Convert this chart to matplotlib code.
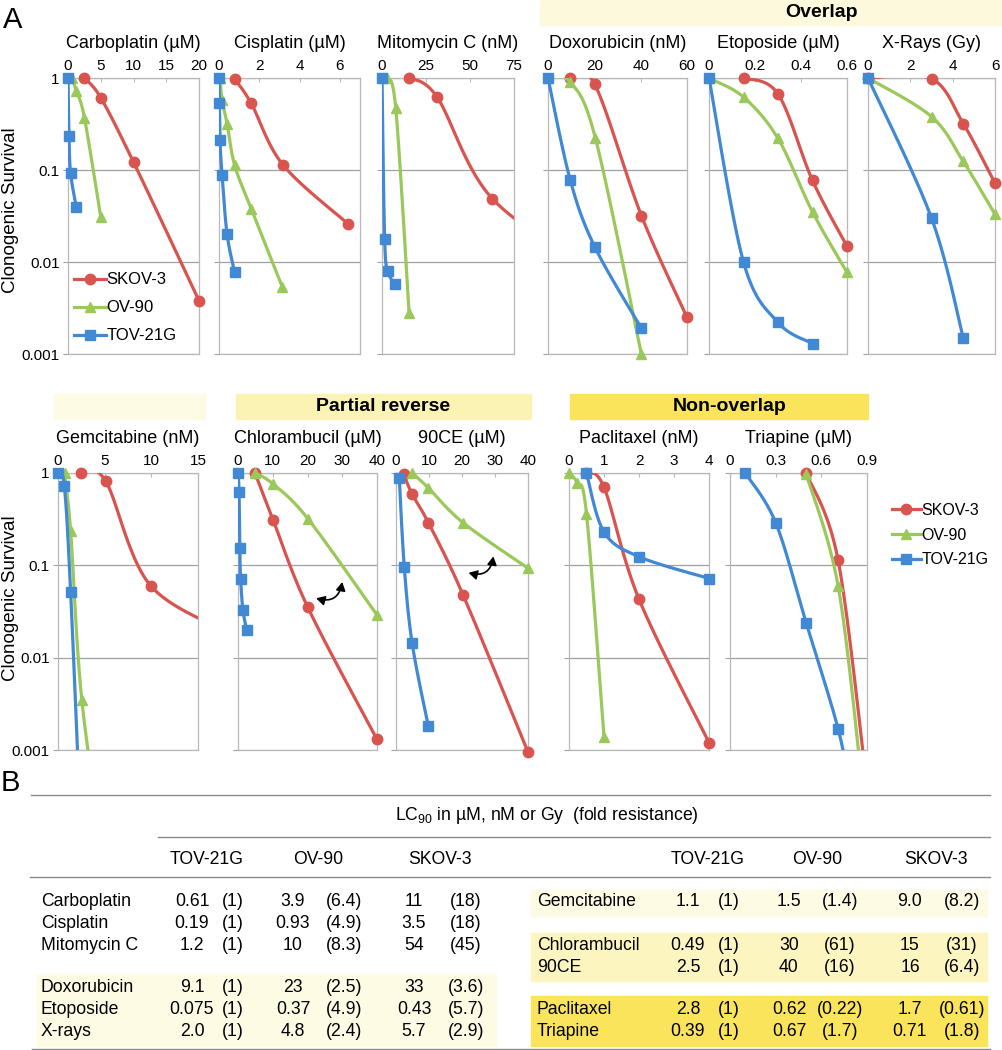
# Clonogenic survival curves (panel A) + LC90 table (panel B)
import numpy as np
import matplotlib.pyplot as plt
from matplotlib.patches import Rectangle, FancyArrowPatch
from matplotlib.lines import Line2D
from matplotlib.ticker import NullLocator, FormatStrFormatter

plt.rcParams['font.family'] = ['Liberation Sans', 'DejaVu Sans']
plt.rcParams['mathtext.fontset'] = 'custom'
plt.rcParams['mathtext.rm'] = 'Liberation Sans'
plt.rcParams['mathtext.default'] = 'regular'

# ---- data: dose, survival for each cell line ----
carboplatin = {'SKOV-3': ([2.5, 5, 10, 20], [1.0, 0.61, 0.122, 0.0038]),
               'OV-90': ([0.6, 1.25, 2.5, 5], [1.0, 0.73, 0.37, 0.031]),
               'TOV-21G': ([0, 0.15, 0.4, 1.25], [1.0, 0.235, 0.092, 0.040])}
cisplatin = {'SKOV-3': ([0.78, 1.6, 3.17, 6.4], [0.97, 0.53, 0.114, 0.026]),
             'OV-90': ([0.05, 0.15, 0.4, 0.78, 1.6, 3.15], [1.0, 0.58, 0.32, 0.112, 0.038, 0.0053]),
             'TOV-21G': ([0, 0.02, 0.05, 0.15, 0.4, 0.78], [1.0, 0.53, 0.21, 0.089, 0.020, 0.0077])}
mitomycin = {'SKOV-3': ([15.4, 31.3, 62.6, 125], [1.0, 0.62, 0.049, 0.007]),
             'OV-90': ([2.8, 7.8, 15.4], [1.0, 0.47, 0.0028]),
             'TOV-21G': ([0, 1.5, 3.4, 7.6], [1.0, 0.018, 0.0079, 0.0057])}
doxorubicin = {'SKOV-3': ([9.6, 20.2, 40.3, 60], [1.0, 0.85, 0.032, 0.0025]),
               'OV-90': ([0, 9.6, 20.5, 40.3], [1.0, 0.9, 0.22, 0.001]),
               'TOV-21G': ([0, 9.6, 20.2, 40.3], [1.0, 0.078, 0.0146, 0.0019])}
etoposide = {'SKOV-3': ([0.15, 0.3, 0.45, 0.6], [1.0, 0.67, 0.077, 0.0148]),
             'OV-90': ([0, 0.15, 0.3, 0.45, 0.6], [1.0, 0.62, 0.22, 0.035, 0.0077]),
             'TOV-21G': ([0, 0.15, 0.3, 0.45], [1.0, 0.01, 0.0022, 0.0013])}
xrays = {'SKOV-3': ([0, 3, 4.5, 6], [1.0, 0.98, 0.32, 0.072]),
         'OV-90': ([0, 3, 4.5, 6], [1.0, 0.38, 0.124, 0.033]),
         'TOV-21G': ([0, 3, 4.5], [1.0, 0.030, 0.0015])}
gemcitabine = {'SKOV-3': ([2.5, 5.1, 10, 20], [1.0, 0.82, 0.059, 0.016]),
               'OV-90': ([0.7, 1.35, 2.55, 5], [1.0, 0.235, 0.0035, 6e-5]),
               'TOV-21G': ([0, 0.67, 1.35, 2.5], [1.0, 0.73, 0.052, 1e-4])}
chlorambucil = {'SKOV-3': ([4.9, 10.1, 20.1, 40], [1.0, 0.31, 0.035, 0.0013]),
                'OV-90': ([4.9, 10.1, 20.1, 40], [1.0, 0.76, 0.32, 0.029]),
                'TOV-21G': ([0, 0.3, 0.5, 0.75, 1.4, 2.5], [1.0, 0.63, 0.155, 0.072, 0.033, 0.020])}
ce90 = {'SKOV-3': ([2.3, 4.9, 9.8, 20.3, 40], [0.97, 0.59, 0.29, 0.048, 0.00095]),
        'OV-90': ([4.9, 9.8, 20.3, 40], [1.0, 0.69, 0.29, 0.093]),
        'TOV-21G': ([1.0, 2.5, 4.9, 9.8], [0.88, 0.097, 0.0143, 0.0018])}
paclitaxel = {'SKOV-3': ([0.5, 1.0, 2.0, 4.0], [1.0, 0.70, 0.043, 0.0012]),
              'OV-90': ([0, 0.23, 0.5, 1.0], [1.0, 0.78, 0.36, 0.0014]),
              'TOV-21G': ([0.5, 1.0, 2.0, 4.0], [1.0, 0.23, 0.124, 0.072])}
triapine = {'SKOV-3': ([0.5, 0.71, 0.9], [1.0, 0.114, 0.0004]),
            'OV-90': ([0.5, 0.71, 0.87], [0.98, 0.060, 0.0004]),
            'TOV-21G': ([0.1, 0.3, 0.5, 0.71, 0.8], [1.0, 0.29, 0.024, 0.0017, 0.0003])}

chl_arrow = [(22.5, 0.044), (30.0, 0.066)]
ce_arrow = [(22.0, 0.083), (29.5, 0.125)]

# ---- table data ----
cols = ['TOV-21G', 'OV-90', 'SKOV-3']
left_drugs = ['Carboplatin', 'Cisplatin', 'Mitomycin C', 'Doxorubicin', 'Etoposide', 'X-rays']
left_tov = ['0.61', '0.19', '1.2', '9.1', '0.075', '2.0']
left_tov_f = ['(1)'] * 6
left_ov = ['3.9', '0.93', '10', '23', '0.37', '4.8']
left_ov_f = ['(6.4)', '(4.9)', '(8.3)', '(2.5)', '(4.9)', '(2.4)']
left_sk = ['11', '3.5', '54', '33', '0.43', '5.7']
left_sk_f = ['(18)', '(18)', '(45)', '(3.6)', '(5.7)', '(2.9)']
right_drugs = ['Gemcitabine', 'Chlorambucil', '90CE', 'Paclitaxel', 'Triapine']
right_tov = ['1.1', '0.49', '2.5', '2.8', '0.39']
right_tov_f = ['(1)'] * 5
right_ov = ['1.5', '30', '40', '0.62', '0.67']
right_ov_f = ['(1.4)', '(61)', '(16)', '(0.22)', '(1.7)']
right_sk = ['9.0', '15', '16', '1.7', '0.71']
right_sk_f = ['(8.2)', '(31)', '(6.4)', '(0.61)', '(1.8)']

colors = {'SKOV-3': '#d9534f', 'OV-90': '#9bc85a', 'TOV-21G': '#4189d4'}
markers = {'SKOV-3': ('o', 7.5), 'OV-90': ('^', 7.5), 'TOV-21G': ('s', 6.8)}

W, H = 1003, 1050
fig = plt.figure(figsize=(W / 100, H / 100), dpi=100)


def fx(px):
    return px / W


def fy(py):
    return 1 - py / H


def smooth(ax, x, y, steps=40):
    # excel-like smoothing: catmull-rom bezier in screen space
    pts = ax.transData.transform(np.column_stack([x, y]))
    p = np.vstack([pts[0], pts, pts[-1]])
    t = np.linspace(0, 1, steps)[:, None]
    segs = []
    for i in range(1, len(p) - 2):
        p0, p1, p2, p3 = p[i - 1], p[i], p[i + 1], p[i + 2]
        c1 = p1 + (p2 - p0) / 6
        c2 = p2 - (p3 - p1) / 6
        segs.append((1 - t) ** 3 * p1 + 3 * (1 - t) ** 2 * t * c1 + 3 * (1 - t) * t ** 2 * c2 + t ** 3 * p2)
    c = ax.transData.inverted().transform(np.vstack(segs))
    return c[:, 0], c[:, 1]


def panel(x0, x1, ytop, ybot, title, data, xmax, ticks, show_y):
    ax = fig.add_axes([fx(x0), fy(ybot), fx(x1 - x0), (ybot - ytop) / H])
    ax.set_yscale('log')
    ax.set_ylim(0.001, 1)
    ax.set_xlim(0, xmax)
    ax.xaxis.tick_top()
    ax.set_xticks(ticks)
    ax.xaxis.set_major_formatter(FormatStrFormatter('%g'))
    ax.set_yticks([0.001, 0.01, 0.1, 1])
    ax.yaxis.set_minor_locator(NullLocator())
    if show_y:
        ax.set_yticklabels(['0.001', '0.01', '0.1', '1'])
    else:
        ax.set_yticklabels([])
    ax.grid(axis='y', color='#a0a0a0', lw=0.9)
    for s in ax.spines.values():
        s.set_color('#b8b8b8')
        s.set_linewidth(0.9)
    ax.tick_params(axis='x', direction='in', length=3, color='#b8b8b8', labelsize=11, pad=3.5)
    ax.tick_params(axis='y', direction='out', length=3.5, color='#a0a0a0', labelsize=11, pad=2.5)
    ax.annotate(title, xy=(0.5, 1), xycoords='axes fraction', xytext=(0, 25),
                textcoords='offset points', ha='center', va='center', fontsize=13)
    for k, name in enumerate(['SKOV-3', 'OV-90', 'TOV-21G']):
        xs, ys = data[name]
        sx, sy = smooth(ax, xs, ys)
        ax.plot(sx, sy, color=colors[name], lw=2.3, zorder=3 + k, solid_capstyle='round')
        keep = [(a, b) for a, b in zip(xs, ys) if a <= xmax * 1.001 and b >= 0.0009]
        m, ms = markers[name]
        ax.plot([a for a, b in keep], [b for a, b in keep], ls='none', marker=m, ms=ms,
                color=colors[name], mec=colors[name], clip_on=False, zorder=3 + k)
    return ax


top, bot = 78, 354
panel(68, 199, top, bot, 'Carboplatin (µM)', carboplatin, 20, [0, 5, 10, 15, 20], True)
panel(219, 360, top, bot, 'Cisplatin (µM)', cisplatin, 7, [0, 2, 4, 6], False)
panel(382, 514, top, bot, 'Mitomycin C (nM)', mitomycin, 75, [0, 25, 50, 75], False)
panel(548, 687, top, bot, 'Doxorubicin (nM)', doxorubicin, 60, [0, 20, 40, 60], False)
panel(709, 847, top, bot, 'Etoposide (µM)', etoposide, 0.6, [0, 0.2, 0.4, 0.6], False)
panel(868, 995, top, bot, 'X-Rays (Gy)', xrays, 6, [0, 2, 4, 6], False)

top, bot = 473, 750
panel(58, 198, top, bot, 'Gemcitabine (nM)', gemcitabine, 15, [0, 5, 10, 15], True)
a_chl = panel(238, 377, top, bot, 'Chlorambucil (µM)', chlorambucil, 40, [0, 10, 20, 30, 40], False)
a_ce = panel(396, 528, top, bot, '90CE (µM)', ce90, 40, [0, 10, 20, 30, 40], False)
panel(569, 709, top, bot, 'Paclitaxel (nM)', paclitaxel, 4, [0, 1, 2, 3, 4], False)
panel(730, 867, top, bot, 'Triapine (µM)', triapine, 0.9, [0, 0.3, 0.6, 0.9], False)

for ax, arr in [(a_chl, chl_arrow), (a_ce, ce_arrow)]:
    ax.add_patch(FancyArrowPatch(arr[0], arr[1], arrowstyle='<|-|>,head_length=5,head_width=2.8',
                                 connectionstyle='arc3,rad=0.55', color='black', lw=1.2,
                                 shrinkA=0, shrinkB=0, zorder=10))

# legends
handles = [Line2D([], [], color=colors[n], lw=2.3, marker=markers[n][0], ms=markers[n][1])
           for n in ['SKOV-3', 'OV-90', 'TOV-21G']]
labels = ['SKOV-3', 'OV-90', 'TOV-21G']
fig.legend(handles, labels, loc='center left', bbox_to_anchor=(fx(74), fy(308)), frameon=False,
           fontsize=12, handlelength=1.9, handletextpad=0.05, labelspacing=0.78, borderpad=0,
           borderaxespad=0, numpoints=1)
fig.legend(handles, labels, loc='center left', bbox_to_anchor=(fx(892), fy(535)), frameon=False,
           fontsize=11.5, handlelength=1.8, handletextpad=0.05, labelspacing=0.62, borderpad=0,
           borderaxespad=0, numpoints=1)

# y labels and panel letters
for yc in [210, 598]:
    fig.text(fx(11), fy(yc), 'Clonogenic Survival', rotation=90, ha='center', va='center', fontsize=13.5)
fig.text(fx(13), fy(20), 'A', ha='center', va='center', fontsize=21)
fig.text(fx(10), fy(783), 'B', ha='center', va='center', fontsize=21)

# group bands
bands = [(540, 1003, 0, 25, '#fcf9dc', 'Overlap', 822),
         (54, 205, 394, 419, '#fefbe4', '', 0),
         (236, 531, 394, 419, '#fbf3b3', 'Partial reverse', 383),
         (570, 868, 394, 419, '#f9e45b', 'Non-overlap', 730)]
for x0, x1, y0, y1, c, txt, tx in bands:
    fig.patches.append(Rectangle((fx(x0), fy(y1)), fx(x1 - x0), (y1 - y0) / H,
                                 transform=fig.transFigure, color=c, zorder=0))
    if txt:
        fig.text(fx(tx), fy((y0 + y1) / 2), txt, ha='center', va='center', fontsize=14, fontweight='bold')

# ---- table B ----
shades = [(37, 496, 974, 1046, '#fdfbe4'),
          (531, 987, 890, 916, '#fdfbe4'),
          (531, 987, 933, 981, '#fcf5c0'),
          (531, 987, 996, 1046, '#f9e45b')]
for x0, x1, y0, y1, c in shades:
    fig.patches.append(Rectangle((fx(x0), fy(y1)), fx(x1 - x0), (y1 - y0) / H,
                                 transform=fig.transFigure, color=c, zorder=0))

for y, x0, x1 in [(795, 31, 990), (837, 158, 990), (877, 30, 990), (1049, 32, 990)]:
    fig.add_artist(Line2D([fx(x0), fx(x1)], [fy(y), fy(y)], color='#8a8a8a', lw=1.0))

tfs = 12.7
fig.text(fx(547), fy(816), 'LC$_{90}$ in µM, nM or Gy  (fold resistance)', ha='center', va='center', fontsize=tfs)
for xs in [[207, 318, 440], [708, 817, 936]]:
    for xc, c in zip(xs, cols):
        fig.text(fx(xc), fy(859), c, ha='center', va='center', fontsize=tfs)


def table_block(names, name_x, rows_y, columns, col_x):
    for i, (nm, yy) in enumerate(zip(names, rows_y)):
        fig.text(fx(name_x), fy(yy), nm, ha='left', va='center', fontsize=tfs)
        for vals, xc in zip(columns, col_x):
            fig.text(fx(xc), fy(yy), vals[i], ha='center', va='center', fontsize=tfs)


table_block(left_drugs, 41, [902, 924, 945, 988, 1010, 1032],
            [left_tov, left_tov_f, left_ov, left_ov_f, left_sk, left_sk_f],
            [192, 233, 293, 344, 414, 466])
table_block(right_drugs, 537, [902, 946, 967, 1010, 1032],
            [right_tov, right_tov_f, right_ov, right_ov_f, right_sk, right_sk_f],
            [688, 729, 789, 840, 910, 962])

plt.savefig('out.png', dpi=100, facecolor='white')
